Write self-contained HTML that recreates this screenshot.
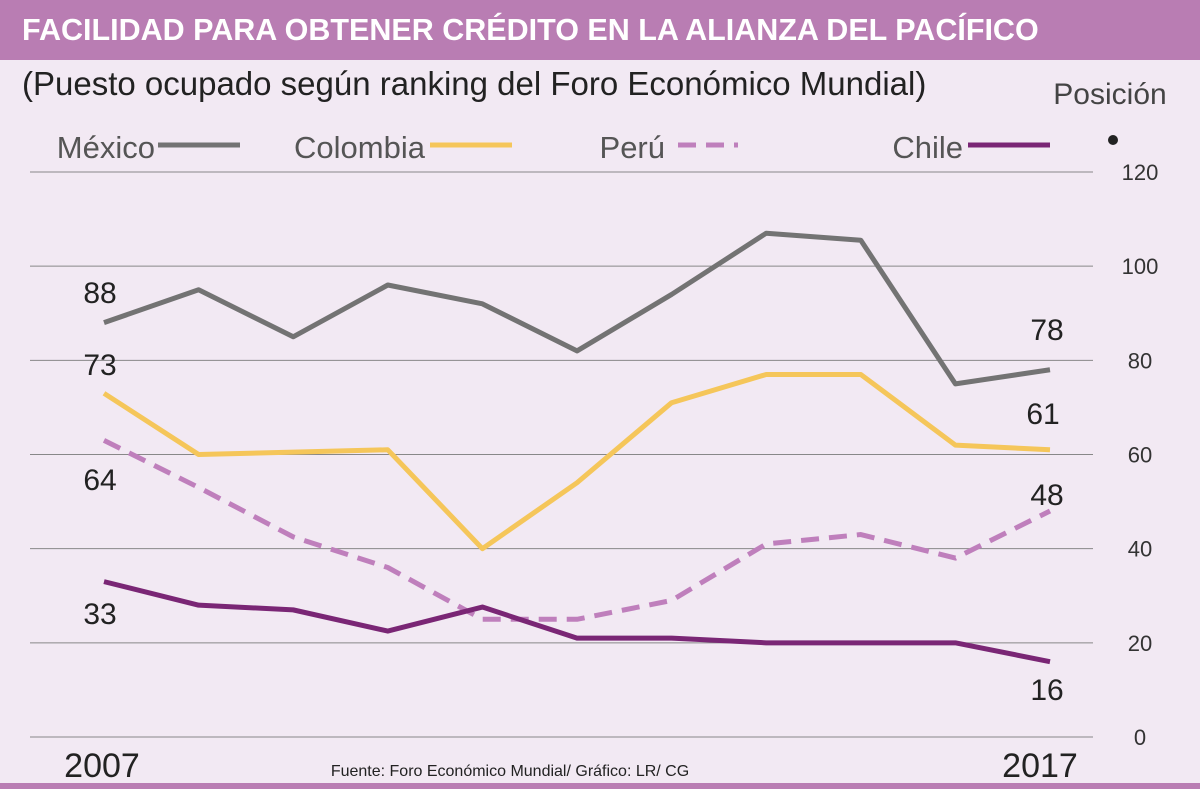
<!DOCTYPE html>
<html><head><meta charset="utf-8"><style>
body{margin:0;width:1200px;height:789px;background:#f2e9f3;overflow:hidden;font-family:"Liberation Sans Narrow","Liberation Sans",sans-serif}
#t{position:absolute;left:0;top:0;width:1200px;height:60px;background:#b97db3;color:#fff;font:bold 30.5px "Liberation Sans",sans-serif;line-height:60px;padding-left:22px;box-sizing:border-box}
</style></head><body>
<div id="t">FACILIDAD PARA OBTENER CRÉDITO EN LA ALIANZA DEL PACÍFICO</div>
<svg id="c" width="1200" height="789" style="position:absolute;left:0;top:0"></svg>
<script>
const years=[2007,2008,2009,2010,2011,2012,2013,2014,2015,2016,2017];
const mexico=[88,95,85,96,92,82,94,107,105.5,75,78];
const colombia=[73,60,60.5,61,40,54,71,77,77,62,61];
const peru=[63,53,42.5,36,25,25,29,41,43,38,48];
const chile=[33,28,27,22.5,27.6,21,21,20,20,20,16];
const ticks=[0,20,40,60,80,100,120];
const NS='http://www.w3.org/2000/svg',svg=document.getElementById('c');
const x=i=>104+i*(1050-104)/(years.length-1);
const y=v=>737-v*(737-172)/120;
function mk(t,a,p){const e=document.createElementNS(NS,t);for(const k in a)e.setAttribute(k,a[k]);(p||svg).appendChild(e);return e;}
function txt(s,xx,yy,sz,anchor,fill,name){const e=mk('text',{x:xx,y:yy,'font-size':sz,'text-anchor':anchor||'start',fill:fill||'#222'});e.textContent=s;

return e;}
ticks.forEach(v=>{const l=mk('line',{x1:30,x2:1093,y1:y(v),y2:y(v),stroke:'#888','stroke-width':1});


txt(String(v),1140,y(v)+8,22,'middle','#333','y-tick-'+v);});
txt('(Puesto ocupado según ranking del Foro Económico Mundial)',22,95,33,'start','#222','subtitle');
txt('Posición',1110,104,30,'middle','#444','y-axis-title');
const dot=mk('circle',{cx:1113,cy:140,r:5,fill:'#222'});


const series=[[mexico,'#737373',null,'México',155,158,240],[colombia,'#f5c65a',null,'Colombia',425,430,512],[peru,'#bf7fbc','18,10','Perú',665,678,738],[chile,'#7a2675',null,'Chile',963,968,1050]];
series.forEach(([d,c,dash,n,lx,l1,l2])=>{
txt(n,lx,158,31,'end','#555','legend-'+n);
const ll=mk('line',{x1:l1,x2:l2,y1:145,y2:145,stroke:c,'stroke-width':5});if(dash)ll.setAttribute('stroke-dasharray',dash);


const p=mk('polyline',{points:d.map((v,i)=>x(i)+','+y(v)).join(' '),fill:'none',stroke:c,'stroke-width':5,'stroke-linejoin':'round'});
if(dash)p.setAttribute('stroke-dasharray',dash);

});
txt('88',100,303,30,'middle','#222','label-mexico-2007');
txt('73',100,375,30,'middle','#222','label-colombia-2007');
txt('64',100,490,30,'middle','#222','label-peru-2007');
txt('33',100,624,30,'middle','#222','label-chile-2007');
txt('78',1047,340,30,'middle','#222','label-mexico-2017');
txt('61',1043,424,30,'middle','#222','label-colombia-2017');
txt('48',1047,505,30,'middle','#222','label-peru-2017');
txt('16',1047,700,30,'middle','#222','label-chile-2017');
txt('2007',102,777,34,'middle','#222','x-label-2007');
txt('2017',1040,777,34,'middle','#222','x-label-2017');
txt('Fuente: Foro Económico Mundial/ Gráfico: LR/ CG',510,776,16,'middle','#222','source-note');
const b=mk('rect',{x:0,y:783,width:1200,height:6,fill:'#b97db3'});


</script></body></html>
